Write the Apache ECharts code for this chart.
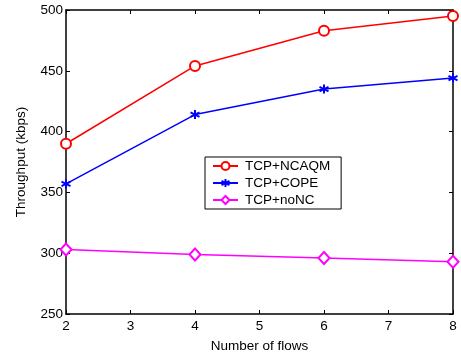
<!DOCTYPE html>
<html>
<head>
<meta charset="utf-8">
<script src="https://cdn.jsdelivr.net/npm/echarts@6/dist/echarts.min.js"></script>
<style>
  html, body { margin: 0; padding: 0; background: #fff; }
  #chart { width: 461px; height: 358px; }
</style>
</head>
<body>
<div id="chart"></div>
<script>
// Throughput against number of concurrent flows
const flows = [2, 4, 6, 8];
const ncaqm = [390, 454, 483, 495];
const cope = [357, 414, 435, 444];
const nonc = [303, 299, 296, 293];

const FONT = '"Liberation Sans", Arial, sans-serif';
const FS = 13.5;

// asterisk marker built from three crossing strokes
const asterisk = 'path://M0,-10L0,10M-8.66,-5L8.66,5M-8.66,5L8.66,-5';

function pairs(ys) { return flows.map((x, i) => [x, ys[i]]); }

const chart = echarts.init(document.getElementById('chart'), null, { renderer: 'canvas' });

const axisCommon = {
  axisLine: { show: true, lineStyle: { color: '#000', width: 1.5 } },
  axisTick: { show: true, inside: true, length: 4, lineStyle: { color: '#000', width: 1 } },
  splitLine: { show: false }
};

chart.setOption({
  animation: false,
  backgroundColor: '#fff',
  textStyle: { fontFamily: FONT },
  grid: { left: 66, right: 8, top: 10, bottom: 43, containLabel: false },
  legend: {
    orient: 'vertical',
    left: 205,
    top: 157,
    backgroundColor: '#fff',
    borderColor: '#000',
    borderWidth: 1,
    borderRadius: 0,
    padding: [2, 11, 2, 7],
    itemWidth: 25,
    itemHeight: 10,
    itemGap: 3,
    textStyle: { fontFamily: FONT, fontSize: FS, color: '#000', padding: [0, 0, 0, 2] },
    data: ['TCP+NCAQM', 'TCP+COPE', 'TCP+noNC']
  },
  xAxis: [
    Object.assign({
      type: 'value', position: 'bottom', min: 2, max: 8, interval: 1,
      name: 'Number of flows', nameLocation: 'middle', nameGap: 25,
      nameTextStyle: { fontFamily: FONT, fontSize: FS, color: '#000' },
      axisLabel: { fontFamily: FONT, fontSize: FS, color: '#000', margin: 5 }
    }, axisCommon),
    Object.assign({
      type: 'value', position: 'top', min: 2, max: 8, interval: 1,
      axisLabel: { show: false }
    }, axisCommon)
  ],
  yAxis: [
    Object.assign({
      type: 'value', position: 'left', min: 250, max: 500, interval: 50,
      name: 'Throughput (kbps)', nameLocation: 'middle', nameGap: 38,
      nameTextStyle: { fontFamily: FONT, fontSize: FS, color: '#000' },
      axisLabel: { fontFamily: FONT, fontSize: FS, color: '#000', margin: 3 }
    }, axisCommon),
    Object.assign({
      type: 'value', position: 'right', min: 250, max: 500, interval: 50,
      axisLabel: { show: false }
    }, axisCommon)
  ],
  series: [
    {
      name: 'TCP+NCAQM', type: 'line', data: pairs(ncaqm),
      symbol: 'emptyCircle', symbolSize: 10,
      lineStyle: { color: '#ff0000', width: 1.5 },
      itemStyle: { color: '#ff0000', borderColor: '#ff0000', borderWidth: 1.5 }
    },
    {
      name: 'TCP+COPE', type: 'line', data: pairs(cope),
      symbol: asterisk, symbolSize: 9,
      lineStyle: { color: '#0000ff', width: 1.5 },
      itemStyle: { color: '#0000ff', borderColor: '#0000ff', borderWidth: 2 }
    },
    {
      name: 'TCP+noNC', type: 'line', data: pairs(nonc),
      symbol: 'emptyDiamond', symbolSize: [11, 12],
      lineStyle: { color: '#ff00ff', width: 1.5 },
      itemStyle: { color: '#ff00ff', borderColor: '#ff00ff', borderWidth: 1.5 }
    }
  ]
});
</script>
</body>
</html>
